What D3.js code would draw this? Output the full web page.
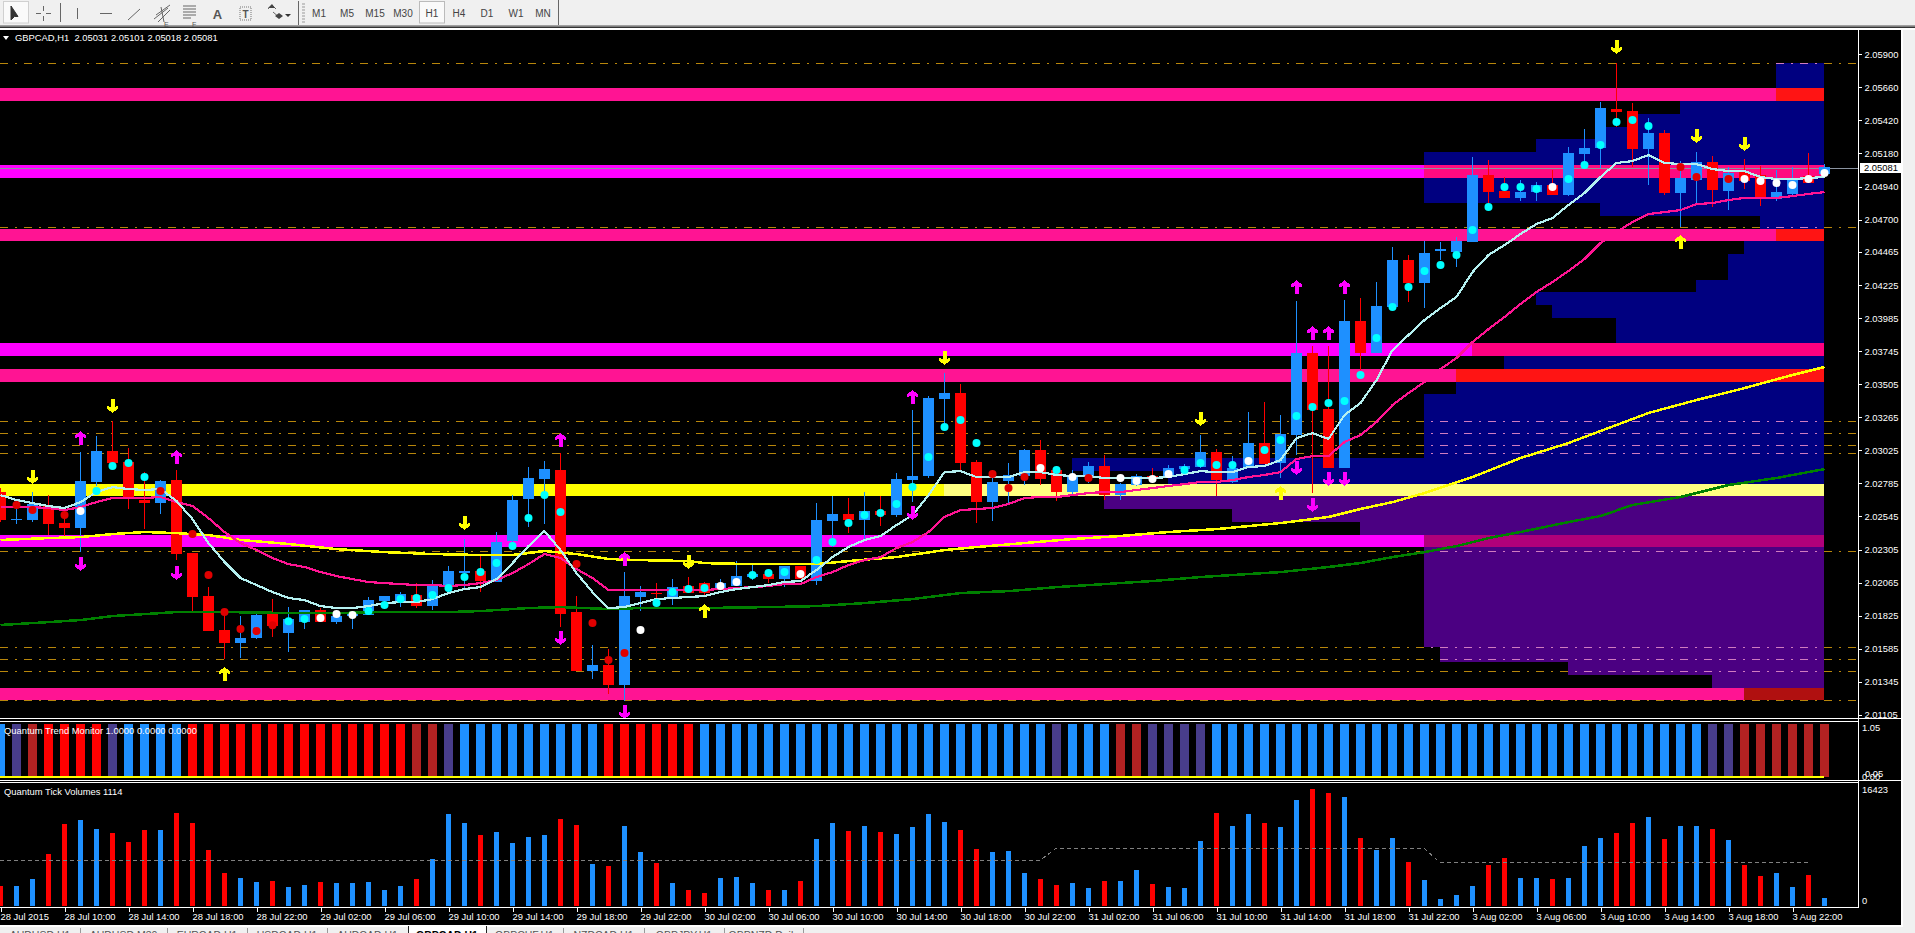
<!DOCTYPE html>
<html><head><meta charset="utf-8">
<script src="https://d3js.org/d3.v7.min.js"></script>
<style>html,body{margin:0;padding:0;background:#f0f0f0;overflow:hidden}svg{display:block}text{font-family:"Liberation Sans",Arial,sans-serif}</style>
</head><body><div id="c"></div>
<script>
// ---- prices are in points (1 point = 0.00001)
const candleOpen=[202722,202519,202519,202620,202497,202461,202795,203020,202940,202664,202642,202809,202279,201967,201720,201626,201662,201836,201698,201778,201865,201778,201822,201829,201931,201923,201974,201894,202040,202134,202149,202069,202366,202671,202816,202882,201851,201423,201466,201321,201960,201989,201960,202040,202061,202011,202040,202105,202127,202090,202185,202076,202512,202562,202519,202584,202555,202809,202838,203397,203441,202940,202649,202802,202838,203027,202882,202722,202831,202911,202700,202773,202838,202831,202889,202904,203012,202795,202896,203078,202933,203136,203731,203325,202896,203964,203731,204065,204406,204239,204472,204465,204537,205024,204907,204857,204900,204951,204878,205176,205220,205503,205488,205212,205328,204893,204987,205118,204907,205045,205024,204849,204886,205016,205031];
const candleHigh=[202751,202628,202722,202700,202591,203012,203129,203238,203042,202867,202809,202882,202279,202032,201865,201822,201851,201945,201887,201865,201880,201865,201851,201960,201967,201996,202061,202083,202185,202381,202257,202432,202700,202904,202947,203005,201967,201611,201582,202141,202040,202061,202090,202105,202069,202090,202221,202199,202163,202185,202185,202642,202693,202679,202722,202693,202860,203317,203419,203586,203506,202954,202882,202933,203034,203100,202911,202882,202940,202991,202787,202853,202896,202918,202925,203136,203034,202983,203303,203376,203281,204109,203782,203782,204116,204131,204247,204501,204443,204544,204537,204573,205154,205132,205009,204987,204973,205060,205227,205357,205553,205837,205546,205437,205350,205125,205190,205161,205082,205140,205089,205060,205082,205183,205101];
const candleLow=[202504,202490,202504,202410,202395,202286,202766,202904,202599,202453,202562,202228,201844,201713,201510,201517,201655,201669,201560,201727,201778,201764,201727,201829,201873,201887,201880,201865,201996,202011,201996,202069,202301,202468,202490,201742,201423,201364,201256,201205,201858,201938,201902,201989,201974,202011,202040,202083,202061,202032,202090,202047,202323,202424,202374,202475,202541,202649,202824,203187,202882,202497,202512,202642,202773,202773,202657,202708,202787,202664,202664,202766,202787,202824,202853,202896,202693,202787,202896,202925,202824,202991,202715,202896,202896,203608,203731,204065,204101,204058,204406,204356,204537,204820,204857,204835,204835,204878,204871,205111,205074,205372,205082,204951,204878,204646,204820,204791,204769,204922,204798,204835,204864,204965,205018];
const candleClose=[202519,202526,202635,202490,202461,202802,203020,202933,202686,202642,202802,202272,201960,201713,201626,201662,201829,201749,201800,201865,201778,201822,201836,201938,201967,201982,201894,202040,202149,202149,202076,202359,202664,202824,202889,201836,201423,201466,201321,201967,201996,201982,202032,201989,201989,202061,202112,202127,202090,202185,202090,202519,202562,202519,202584,202555,202816,202838,203405,203441,202933,202649,202795,202846,203027,202816,202722,202831,202911,202700,202780,202838,202816,202896,202911,203012,202809,202896,203078,202925,203143,203731,203317,202896,203964,203731,204072,204406,204239,204457,204486,204544,205024,204900,204857,204900,204951,204878,205183,205220,205510,205481,205212,205328,204893,205002,205118,204915,205038,204980,204864,204900,204987,204965,205081];
const dotPrice=[null,202628,202591,null,202555,202584,202729,202911,202933,202831,202729,null,202417,202119,201851,201727,201713,201756,201785,201800,201807,201836,201829,201858,201902,201945,201953,201974,202025,202105,202141,202207,202330,202533,202700,202577,202199,201771,201502,201553,201720,201916,201996,202018,202025,202040,202069,202119,202134,202141,202127,202228,202359,202497,202555,202570,202635,202758,202976,203194,203245,203078,202853,202751,202831,202896,202882,202831,202824,null,202824,202802,202816,202853,202882,202933,202918,202918,202947,203027,203100,203274,203339,203368,203383,203572,203840,204065,204210,204327,204370,204443,204624,204791,204936,204936,204922,204936,204994,205096,205241,205408,205423,205379,null,205082,205009,null,204994,204994,204980,204965,204951,204994,205038];
const dotKind=("-rr-rwcccc"+"r-rrrrrrcc"+"wwwccccccc"+"ccccccrrrr"+"wccccwwccc"+"wccccccccc"+"ccrrrwcwr-"+"wwwwccccwc"+"cccccccccc"+"cccccccwcc"+"cccc-rr-rw"+"wwwww").split("");
const fastLine=[202700,202664,202642,202620,202606,202649,202722,202758,202744,202737,202744,202657,202526,202352,202214,202098,202047,201996,201953,201938,201894,201880,201880,201894,201916,201923,201923,201945,201989,202018,202032,202090,202206,202330,202439,202301,202134,201996,201880,201887,201916,201945,201953,201960,201967,201996,202018,202032,202047,202069,202076,202156,202250,202323,202374,202403,202482,202555,202700,202867,202874,202831,202831,202831,202867,202867,202846,202838,202838,202824,202824,202824,202824,202831,202853,202874,202867,202867,202904,202911,202954,203114,203150,203107,203281,203368,203535,203753,203862,203971,204058,204138,204319,204443,204515,204595,204668,204711,204806,204893,205009,205111,205125,205169,205111,205103,205103,205067,205052,205052,205009,204994,204994,205002,205009];
const pinkLine=[202613,202613,202613,202606,202591,202613,202649,202679,202679,202679,202686,202649,202620,202533,202432,202352,202301,202243,202199,202178,202141,202112,202090,202069,202061,202054,202047,202047,202040,202047,202061,202083,202134,202199,202272,202243,202163,202098,202011,202011,202011,202011,202011,202011,202011,202018,202025,202032,202040,202054,202054,202105,202141,202192,202228,202250,202315,202359,202432,202541,202591,202599,202606,202635,202679,202686,202686,202700,202715,202722,202722,202737,202751,202766,202780,202795,202795,202809,202831,202846,202867,202962,202983,202983,203085,203136,203230,203354,203441,203521,203615,203695,203811,203905,203993,204087,204174,204247,204327,204414,204530,204610,204682,204740,204755,204769,204813,204820,204842,204857,204857,204857,204871,204886,204900];
const yellowBars=[0,3,5,7,9,11,13,15,18,21,24,27,30,32,34,36,38,40,43,44,47,51,53,56,59,61,64,67,70,73,76,80,83,85,87,89,92,95,98,101,103,106,109,112,114];
const yellowLine=[202374,202388,202395,202417,202432,202424,202410,202374,202345,202308,202286,202272,202265,202265,202294,202272,202236,202228,202221,202206,202199,202199,202221,202250,202301,202323,202352,202381,202403,202432,202453,202497,202541,202599,202649,202715,202831,202969,203078,203209,203296,203390,203477,203572,203630];
const greenBars=[0,3,5,7,9,11,14,18,21,24,28,30,33,35,38,40,44,48,51,54,57,60,63,66,69,72,75,78,80,83,85,87,89,91,93,95,98,100,102,105,108,111,114];
const greenLine=[201757,201778,201793,201822,201836,201851,201851,201844,201844,201851,201851,201858,201880,201887,201873,201880,201880,201887,201894,201916,201945,201989,202003,202032,202054,202076,202105,202127,202141,202178,202207,202250,202286,202330,202388,202432,202504,202548,202628,202686,202773,202824,202889];
const yellowDownBars=[2,7,29,43,59,75,101,106,109];
const yellowDownPrice=[202831,203346,202497,202214,203695,203252,205953,205307,205249];
const yellowUpBars=[14,44,80,81,105];
const yellowUpPrice=[201401,201858,202715,204210,204537];
const magentaUpBars=[5,11,35,39,57,81,82,83,84];
const magentaUpPrice=[203114,202976,203100,202236,203412,204210,203876,203876,204210];
const magentaDownBars=[5,11,35,39,57,81,82,83,84];
const magentaDownPrice=[202199,202134,201662,201125,202570,202896,202628,202816,202816];
const volumes=[2768,2768,3754,7273,11495,12058,10792,10229,8962,10651,10651,13044,11636,7836,4598,3894,3331,3472,2628,2909,3331,3191,3191,3331,2205,2768,3754,6569,12903,11636,9947,10369,8821,9666,9947,12199,11355,5865,5583,11214,7554,6006,3191,2205,1783,3894,4035,3191,2205,2205,3472,9384,11636,10510,11214,10369,10088,11073,12903,11777,10651,7976,7554,7695,4598,3754,2909,3191,2487,3472,3472,5020,3050,2628,2487,9102,13044,11214,12903,11636,11073,14874,16423,15859,15296,9525,7836,9525,6147,3613,938,1501,2768,5724,6710,3894,3894,3754,3894,8399,9525,10229,11636,12481,9384,11214,11214,10792,9243,5724,4176,4598,2628,4317,1114];
const volumeAvgBars=[0,65,66,89,90,113];
const volumeAvgValue=[6381,6381,8070,8070,6100,6100];
const trendState=("BPFRRRRPBBBBRRRRRRRRRRRRRRFFPBBBBBBBBBRRRRRRBBBBBBBBBBBBBBBBBBBBBBPBBBFFPPPPBBBBBBBBBBBBBBBBBBBBBBBBBBBBBBBPPFFFFFF").split("");
const xTickLabels=["28 Jul 2015","28 Jul 10:00","28 Jul 14:00","28 Jul 18:00","28 Jul 22:00","29 Jul 02:00","29 Jul 06:00","29 Jul 10:00","29 Jul 14:00","29 Jul 18:00","29 Jul 22:00","30 Jul 02:00","30 Jul 06:00","30 Jul 10:00","30 Jul 14:00","30 Jul 18:00","30 Jul 22:00","31 Jul 02:00","31 Jul 06:00","31 Jul 10:00","31 Jul 14:00","31 Jul 18:00","31 Jul 22:00","3 Aug 02:00","3 Aug 06:00","3 Aug 10:00","3 Aug 14:00","3 Aug 18:00","3 Aug 22:00"];
const priceTicks=[205900,205660,205420,205180,204940,204700,204465,204225,203985,203745,203505,203265,203025,202785,202545,202305,202065,201825,201585,201345,201105];
const bandTop=[205655,205096,204631,203804,203615,202780,202410,201299];
const bandBottom=[205563,205004,204544,203709,203523,202693,202323,201212];
const bandColor=["#ff1493","#ff00ff","#ff1493","#ff00ff","#ff1493","#ffff00","#ff00ff","#ff1493"];
const bandMixFrom=[111,89,111,92,91,59,89,109];
const bandMixColor=["#ff1414","#ff0a80","#ff1414","#ff007f","#ff1414","#ffff80","#b0007a","#b01010"];
const levelLines=[205834,204644,203235,203148,203061,203003,202292,201594,201507,201420,201210];
const levelOverlapFrom=[111,110,89,89,89,89,89,89,90,98,null];
const profileTop=[205834,205561,205466,205372,205285,205190,205002,204820,204726,204544,204450,204261,204174,204080,203985,203709,203521,203434,202969,202874,202693,202599,202504,202410,201597,201488,201394];
const profileBottom=[205655,205466,205372,205285,205190,205096,204820,204726,204631,204450,204261,204174,204080,203985,203804,203615,203434,202969,202874,202780,202599,202504,202410,201597,201488,201394,201299];
const profileFrom=[111,105,102,100,96,89,89,100,110,109,108,106,96,97,101,94,91,89,67,73,69,77,85,89,90,98,107];
const profileFill=["n","n","n","n","n","n","n","n","n","n","n","n","n","n","n","n","n","n","n","n","i","i","i","i","i","i","i"];
const toolbarFrames=["M1","M5","M15","M30","H1","H4","D1","W1","MN"];
const tabs=["AUDUSD,H1","AUDUSD,M30","EURCAD,H1","USDCAD,H1","AUDCAD,H1","GBPCAD,H1","GBPCHF,H1","NZDCAD,H1","GBPJPY,H1","GBPNZD,Daily"];
const tabEdges=[0,80,167,247,327,408,486,563,644,724,803,891];

// ---- layout
const W=1915,H=933,plotR=1858,axisR=1901;
const colors={blue:"#1e90ff",red:"#ff0000",dotR:"#e00000",cyan:"#00ffff",white:"#ffffff",brown:"#b22222",purple:"#483d8b",navy:"#000080",indigo:"#4b0082",gold:"#b8860b",tint:"#d07cc0"};
const x=d3.scaleLinear().domain([0,114]).range([0,1824]);
const y=d3.scaleLinear().domain([205900,201105]).range([54.3,714.8]);
const yVol=d3.scaleLinear().domain([0,16423]).range([905.7,789]);
const ry=v=>Math.round(y(v));
const svg=d3.select("#c").append("svg").attr("width",W).attr("height",H);
svg.append("rect").attr("width",W).attr("height",H).attr("fill","#f0f0f0");
svg.append("rect").attr("x",0).attr("y",30).attr("width",axisR).attr("height",896).attr("fill","#000");
const crisp=svg.append("g").attr("shape-rendering","crispEdges");

// profile
const prof=crisp.append("g");
profileTop.forEach((t,i)=>prof.append("rect").attr("x",x(profileFrom[i])).attr("y",ry(t)).attr("width",x(114)-x(profileFrom[i])).attr("height",ry(profileBottom[i])-ry(t)).attr("fill",profileFill[i]=="n"?colors.navy:colors.indigo));

// bands
const bands=crisp.append("g");
bandTop.forEach((t,i)=>{
 bands.append("rect").attr("x",0).attr("y",ry(t)).attr("width",x(114)).attr("height",ry(bandBottom[i])-ry(t)).attr("fill",bandColor[i]);
 bands.append("rect").attr("x",x(bandMixFrom[i])).attr("y",ry(t)).attr("width",x(114)-x(bandMixFrom[i])).attr("height",ry(bandBottom[i])-ry(t)).attr("fill",bandMixColor[i]);
});

// level lines
const lv=crisp.append("g");
levelLines.forEach((p,i)=>{
 lv.append("line").attr("x1",0).attr("x2",plotR).attr("y1",ry(p)+.5).attr("y2",ry(p)+.5).attr("stroke",colors.gold).attr("stroke-dasharray","8 7 2 7");
 if(levelOverlapFrom[i]!=null){const x0=x(levelOverlapFrom[i]);
  lv.append("line").attr("x1",x0).attr("x2",x(114)).attr("y1",ry(p)+.5).attr("y2",ry(p)+.5).attr("stroke",colors.tint).attr("stroke-dasharray","8 7 2 7").attr("stroke-dashoffset",x0%24);}
});
// current price line
crisp.append("line").attr("x1",0).attr("x2",plotR).attr("y1",ry(candleClose[114])+1.5).attr("y2",ry(candleClose[114])+1.5).attr("stroke","#8a93a0");

// candles
const idx=d3.range(candleOpen.length);
const cg=crisp.append("g");
const isUp=i=>candleClose[i]>=candleOpen[i];
cg.selectAll("rect.w").data(idx).join("rect").attr("class","w").attr("x",i=>x(i)).attr("width",1).attr("y",i=>ry(candleHigh[i])).attr("height",i=>Math.max(1,ry(candleLow[i])-ry(candleHigh[i]))).attr("fill",i=>isUp(i)?colors.blue:colors.red);
cg.selectAll("rect.b").data(idx).join("rect").attr("class","b").attr("x",i=>x(i)-5).attr("width",11).attr("y",i=>ry(Math.max(candleOpen[i],candleClose[i]))).attr("height",i=>Math.max(1,ry(Math.min(candleOpen[i],candleClose[i]))-ry(Math.max(candleOpen[i],candleClose[i])))).attr("fill",i=>isUp(i)?colors.blue:colors.red);

// lines
const lineAll=(bars,vals,col,w)=>{const gen=d3.line().x((d,i)=>x(bars[i])+.5).y(d=>y(d));
 crisp.append("path").attr("d",gen(vals)).attr("fill","none").attr("stroke",col).attr("stroke-width",w);};
lineAll(greenBars,greenLine,"#008000",2.5);
lineAll(yellowBars,yellowLine,"#ffff00",2.5);
lineAll(idx,pinkLine,"#ff1493",2.2);
lineAll(idx,fastLine,"#b4f0f0",2.2);

// dots
const dotCol={c:colors.cyan,w:colors.white,r:colors.dotR};
svg.append("g").selectAll("circle").data(idx.filter(i=>dotPrice[i]!=null)).join("circle").attr("cx",i=>x(i)+.5).attr("cy",i=>y(dotPrice[i])).attr("r",4).attr("fill",i=>dotCol[dotKind[i]]);

// arrows
const arrowPath=s=>{const p=d3.path(); // s=1 points down, -1 up
 p.moveTo(-2,-7*s);p.lineTo(2,-7*s);p.lineTo(2,1*s);p.lineTo(5.5,-.5*s);p.lineTo(5.5,2.5*s);p.lineTo(0,7*s);p.lineTo(-5.5,2.5*s);p.lineTo(-5.5,-.5*s);p.lineTo(-2,1*s);p.closePath();return p.toString();};
const drawArrows=(bars,prices,col,dir)=>{const g=crisp.append("g");bars.forEach((b,i)=>g.append("path").attr("d",arrowPath(dir)).attr("transform",`translate(${x(b)+.5},${y(prices[i])})`).attr("fill",col));};
drawArrows(yellowDownBars,yellowDownPrice,"#ffff00",1);
drawArrows(yellowUpBars,yellowUpPrice,"#ffff00",-1);
drawArrows(magentaUpBars,magentaUpPrice,"#ff00ff",-1);
drawArrows(magentaDownBars,magentaDownPrice,"#ff00ff",1);

// cover below main panel and panel frames
const frame=svg.append("g").attr("shape-rendering","crispEdges");
frame.append("rect").attr("x",0).attr("y",718).attr("width",plotR).attr("height",64).attr("fill","#000");
frame.append("rect").attr("x",0).attr("y",718).attr("width",axisR).attr("height",1).attr("fill","#fff");
frame.append("rect").attr("x",0).attr("y",721).attr("width",plotR+1).attr("height",1).attr("fill","#fff");
frame.append("rect").attr("x",0).attr("y",780).attr("width",axisR).attr("height",1).attr("fill","#fff");
frame.append("rect").attr("x",0).attr("y",782).attr("width",plotR+1).attr("height",1).attr("fill","#fff");

// trend monitor
const trendCol={B:colors.blue,R:colors.red,F:colors.brown,P:colors.purple};
frame.selectAll("rect.t").data(idx).join("rect").attr("class","t").attr("x",i=>x(i)-4).attr("y",724).attr("width",9).attr("height",i=>i==114?53:52).attr("fill",i=>trendCol[trendState[i]]);
frame.append("rect").attr("x",0).attr("y",776).attr("width",x(114)).attr("height",2).attr("fill","#ffff00");

// volume
frame.append("g").selectAll("rect").data(idx).join("rect").attr("x",i=>x(i)-2).attr("width",5).attr("y",i=>yVol(volumes[i])).attr("height",i=>yVol(0)-yVol(volumes[i])).attr("fill",i=>isUp(i)?colors.blue:colors.red);
const avgGen=d3.line().x((d,i)=>x(volumeAvgBars[i])).y(d=>yVol(d));
svg.append("path").attr("d",avgGen(volumeAvgValue)).attr("fill","none").attr("stroke","#808080").attr("stroke-dasharray","4 3").attr("shape-rendering","crispEdges");

// axes
const axisFont=9.4;
const axP=d3.axisRight(y).tickValues(priceTicks).tickFormat(d=>(d/1e5).toFixed(5)).tickSize(3).tickPadding(3);
const gP=svg.append("g").attr("transform",`translate(${plotR+.5},0)`).attr("shape-rendering","crispEdges").call(axP);
gP.select(".domain").remove();
gP.selectAll(".tick line").attr("stroke","#fff");
gP.selectAll("text").attr("fill","#fff").attr("font-size",axisFont).attr("font-family",'"Liberation Sans",Arial,sans-serif');

frame.append("rect").attr("x",plotR).attr("y",30).attr("width",1).attr("height",878).attr("fill","#fff");
frame.append("rect").attr("x",axisR).attr("y",0).attr("width",2).attr("height",926).attr("fill","#fff");
frame.append("rect").attr("x",axisR+2).attr("y",0).attr("width",12).attr("height",926).attr("fill","#f0f0f0");

const axX=d3.axisBottom(x).tickValues(xTickLabels.map((d,i)=>i*4)).tickFormat((d,i)=>xTickLabels[i]).tickSize(4).tickPadding(2);
const gX=svg.append("g").attr("transform",`translate(0,907.5)`).attr("shape-rendering","crispEdges").call(axX);
gX.select(".domain").remove();
frame.append("rect").attr("x",0).attr("y",907).attr("width",plotR+1).attr("height",1).attr("fill","#fff");
gX.selectAll(".tick line").attr("stroke","#fff").attr("x1",.5).attr("x2",.5);
gX.selectAll("text").attr("fill","#fff").attr("text-anchor","start").attr("font-size",axisFont).attr("font-family",'"Liberation Sans",Arial,sans-serif');

// right labels of the sub-panels
const T=(s,xx,yy,o={})=>svg.append("text").attr("x",xx).attr("y",yy).attr("fill",o.fill||"#fff").attr("font-size",o.size||axisFont).attr("dominant-baseline","central").attr("text-anchor",o.anchor||"start").attr("font-weight",o.weight||null).text(s);
T("1.05",1862,727.7);T("0.05",1865,773);T("0.00",1862,776.7);
T("16423",1862,789);T("0",1862,900.7);

// current price tag
frame.append("rect").attr("x",1860).attr("y",163).attr("width",41).attr("height",10).attr("fill","#fff");
T((candleClose[114]/1e5).toFixed(5),1864,167.8,{fill:"#000"});

// captions
T("GBPCAD,H1  2.05031 2.05101 2.05018 2.05081",15,37.7).style("white-space","pre");
svg.append("path").attr("d","M3,36 L9,36 L6,40 Z").attr("fill","#fff");
T("Quantum Trend Monitor 1.0000 0.0000 0.0000",4,730);
T("Quantum Tick Volumes 1114",4,791.7);

// bottom line + tabs
frame.append("rect").attr("x",0).attr("y",926).attr("width",W).attr("height",7).attr("fill","#f0f0f0");
frame.append("rect").attr("x",0).attr("y",925).attr("width",axisR+2).attr("height",2).attr("fill","#fff");
tabs.forEach((t,i)=>{
 const a=tabEdges[i],b=tabEdges[i+1]; const active=i==5;
 if(active){frame.append("rect").attr("x",a).attr("y",927).attr("width",b-a).attr("height",6).attr("fill","#fff");
  frame.append("rect").attr("x",a).attr("y",926).attr("width",1).attr("height",7).attr("fill","#222");
  frame.append("rect").attr("x",b).attr("y",926).attr("width",1).attr("height",7).attr("fill","#222");}
 else frame.append("rect").attr("x",b).attr("y",928).attr("width",1).attr("height",5).attr("fill","#999");
 T(t,(a+b)/2,935,{fill:active?"#000":"#555",size:10.5,anchor:"middle",weight:active?"bold":null});
});

// toolbar
const tb=svg.append("g");
tb.append("rect").attr("width",W).attr("height",25).attr("fill","#f0f0f0");
tb.append("rect").attr("y",25).attr("width",W).attr("height",1.5).attr("fill","#a0a0a0");
tb.append("rect").attr("y",26.5).attr("width",W).attr("height",1.5).attr("fill","#333");
tb.append("rect").attr("y",28).attr("width",W).attr("height",2).attr("fill","#fff");
tb.append("rect").attr("x",3.5).attr("y",1.5).attr("width",25).attr("height",21.5).attr("fill","#fafafa").attr("stroke","#d0d0d0");
tb.append("path").attr("d","M11,6 L11,20 L14.5,16.5 L18,16.5 Z").attr("fill","#333").attr("stroke","#333");
const ic="#666";
const L=(d,w=1)=>tb.append("path").attr("d",d).attr("fill","none").attr("stroke",ic).attr("stroke-width",w);
L("M43.5,6V11M43.5,16V21M36,13.5H41M46,13.5H51");
L("M60.5,3V22");L("M77.5,8V19");L("M100,13.5H112");L("M128,20L140,9");
L("M154,19L168,8M156,15L170,5M158,22L170,10M161,7L164,22");
L("M183,6h13M183,9h13M183,12h13M183,15h13M183,18h8");
T("E",164,24,{fill:"#555",size:7});T("F",192,24,{fill:"#555",size:7});
T("A",217.5,14,{fill:"#555",size:13,anchor:"middle",weight:"bold"});
tb.append("rect").attr("x",240).attr("y",7).attr("width",11).attr("height",13).attr("fill","none").attr("stroke","#777").attr("stroke-dasharray","1 1");
T("T",245.5,14,{fill:"#555",size:10,anchor:"middle",weight:"bold"});
L("M268,9L272,5L276,9M273,12L280,18");
tb.append("path").attr("d","M268,8l4,-4l3,4zM275,16l4,-3l4,3l-4,3z").attr("fill","#444");
tb.append("path").attr("d","M285,14h6l-3,3z").attr("fill","#333");
L("M298.5,1V25");
tb.append("path").attr("d","M302,4h3M302,7h3M302,10h3M302,13h3M302,16h3M302,19h3M302,22h3").attr("stroke","#999").attr("fill","none");
tb.append("rect").attr("x",419.5).attr("y",1.5).attr("width",25).attr("height",21.5).attr("fill","#fafafa").attr("stroke","#bbb");
const frameX=[319,347,375,403,432,459,487,516,543];
toolbarFrames.forEach((t,i)=>T(t,frameX[i],13.3,{fill:"#444",anchor:"middle",size:10}));
L("M558.5,0V25");
</script></body></html>
